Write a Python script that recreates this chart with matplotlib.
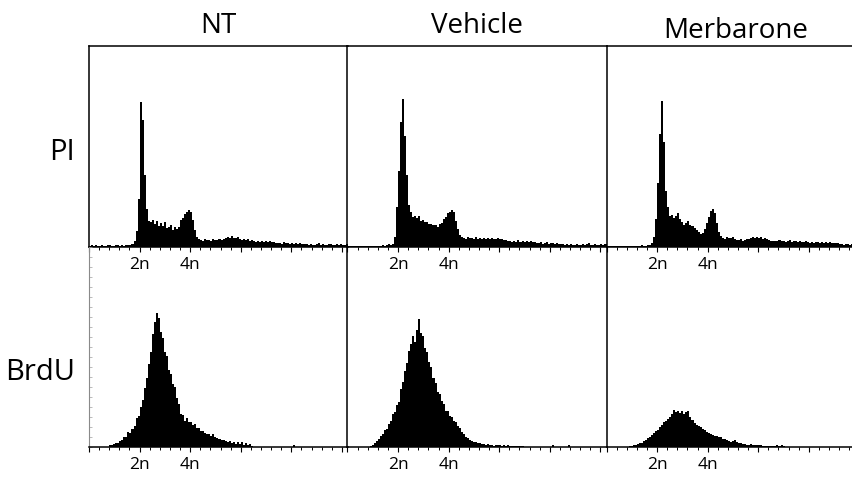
import numpy as np
import matplotlib
matplotlib.use("Agg")
import matplotlib.pyplot as plt
from matplotlib.ticker import MultipleLocator

plt.rcParams['font.family'] = ['Open Sans', 'DejaVu Sans']

conditions = ["NT", "Vehicle", "Merbarone"]
stains = ["PI", "BrdU"]
major_ticks = [0, 200, 400, 600, 800, 1000]
major_labels = ["", "2n", "4n", "", "", ""]
BIN = 8          # channels per histogram bin
N_CHANNELS = 1024

# ---- PI (DNA content) histograms, start channel 0, % of full scale ----
nt_pi = [0.6, 0.8, 0.5, 0.9, 0.7, 0.6, 1.0, 0.7, 0.5, 0.8, 0.9, 0.6, 0.7, 1.0, 0.8, 0.6, 0.9, 0.7, 1.1, 0.8, 1.0,
         1.5, 3, 8, 24, 72, 63, 36, 19, 13, 12.5, 13.6, 11.6, 12.8, 10.6, 11.9, 10.2, 12.4, 9.6, 10.1, 10.8, 8.7,
         9.8, 8.8, 10, 13.5, 14.6, 16.4, 17.2, 18.5, 17.3, 13.6, 8.4, 4.8, 3.8,
         3.5, 3.0, 3.9, 3.3, 3.7, 3.0, 4.0, 3.4, 3.3, 4.2, 3.5, 3.9,
         4.4, 5.2, 4.5, 5.3, 4.6, 4.3, 4.9,
         4.1, 3.5, 4.0, 3.3, 3.8, 3.1, 3.6,
         3.0, 2.7, 3.2, 2.5, 3.0, 2.6, 3.1, 2.4, 2.9, 2.3, 2.7,
         2.2, 1.8, 2.2, 1.7, 2.4, 1.8, 2.1, 1.6, 2.2, 1.7, 2.0, 1.5, 2.1, 1.6, 1.5,
         1.4, 1.1, 1.6, 1.2, 1.1, 1.5, 2.0, 1.2, 1.7, 1.1, 1.1, 1.4, 1.5, 1.1, 1.0, 1.4, 1.1, 1.5, 1.0, 1.2, 1.3]
veh_pi = [0.5, 0.4, 0.6, 0.5, 0.3, 0.6, 0.5, 0.4, 0.7, 0.5, 0.4, 0.6, 0.5, 0.5, 0.7, 0.4, 0.6, 0.8, 0.6,
          1.0, 1.3, 1.1, 1.5,
          5, 20, 38, 62, 73.5, 55, 36, 21, 17.2, 15.1, 15.6, 14.2, 15.4, 13.1, 13.4, 12.2, 12.5, 11.2, 11.4, 10.7,
          10.9, 9.8, 11.2, 11.8, 13.9, 14.7, 16.9, 17.3, 18.3, 17.4, 13, 9, 6, 5,
          4.5, 4.0, 4.8, 4.3, 4.7, 4.0, 4.9, 4.2, 4.6, 3.9, 4.7, 4.1,
          4.4, 3.9, 4.7, 4.1, 4.0, 4.5, 4.0, 3.9, 3.5,
          3.3, 2.8, 3.2, 2.6, 3.1, 2.7, 3.4, 2.5, 3.0, 2.6, 3.1, 2.4, 2.9, 2.5, 2.4,
          2.2, 1.8, 2.3, 1.7, 2.1, 2.3, 1.6, 2.1, 1.8, 1.6, 2.2, 1.7, 1.5,
          1.3, 1.1, 1.6, 1.0, 1.5, 1.2, 1.2, 1.7, 1.2, 1.1, 1.5, 1.1, 1.3, 1.8, 1.1, 1.1, 1.5, 1.2, 1.2, 1.6, 1.2, 1.4]
mer_pi = [0.5, 0.6, 0.4, 0.7, 0.5, 0.6, 0.5, 0.4, 0.6, 0.7, 0.5, 0.6, 0.4, 0.5, 0.7, 0.6, 0.5, 0.8, 0.6, 0.7, 0.9,
          1, 2, 5, 14, 32, 56, 72.5, 52, 28, 20, 15.5, 16, 14.5, 15.5, 17, 14, 12.5, 11, 12, 13, 11, 10.5, 9.5,
          8.5, 7.5, 6.5, 7, 9, 12, 15, 18, 18.7, 17, 12, 7.5, 5.5,
          4.7, 4.2, 4.9, 4.4, 4.5, 4.8, 4.1,
          3.7, 3.3, 3.8, 3.2, 3.6, 3.9,
          4.2, 4.7, 5.0, 4.4, 4.9, 4.3, 4.8, 4.1, 4.6, 3.9,
          3.3, 2.8, 3.2, 2.9, 2.9, 3.4, 2.8, 3.2, 2.6, 3.1, 3.3, 2.7, 3.0, 3.2, 2.6, 3.1, 2.7, 2.6, 3.0,
          2.4, 2.0, 2.5, 1.9, 2.3, 2.6, 2.0, 2.4, 1.8, 2.3, 1.9, 2.5, 2.0, 1.8, 2.1, 1.8, 1.7,
          1.5, 1.2, 1.3, 1.6, 1.2, 1.3, 1.5, 1.2, 1.3, 1.4, 1.1, 1.2]

# ---- BrdU histograms: first non-empty bin and % of full scale ----
nt_brdu_start = 10
nt_brdu = [0.8, 1.2, 1.4, 2.0, 2.1, 2.8, 3.3, 4.8, 5.2, 7.3, 7.2, 8.9, 10.5, 14.5, 15.6, 19.8, 23.5, 29.6, 34.5, 41.5,
           47.5, 56.5, 62.5, 67, 64.5, 57.5, 54.5, 47.5, 45.5, 38.5, 36.5, 31.5, 30, 24.5, 21.5, 16.5, 16.2, 13, 14.6, 12.5,
           12.4, 11.2, 11.4, 9.7, 9.4, 8.2, 7.8, 6.8, 6.3, 6.7, 5.3, 6.6, 4.8, 4.7, 3.8, 3.7, 3.3, 3.1, 2.4, 2.9,
           1.9, 2.6, 1.7, 2.4, 1.4, 2.3, 1.1, 1.9, 1.1, 1.6, 0.6,
           0, 0, 0, 0, 0, 0, 0, 0, 0, 0, 0, 0, 0, 0, 0, 0, 0, 0, 0, 0, 1.2]
veh_brdu_start = 11
veh_brdu = [0.4, 1.1, 1.9, 3.2, 3.8, 5.5, 6.3, 8.3, 9.2, 11.4, 12.9, 16.4, 17.6, 21, 22.6, 29, 32.5, 38, 42, 48,
            51.5, 55.5, 52.5, 58.5, 64, 57, 55.5, 49.5, 47.5, 42.5, 40, 34.5, 32, 27.5, 26.5, 23, 21.5, 18, 18, 15.6,
            14.9, 13.1, 12.4, 10.4, 9.5, 7.7, 6.6, 5.1, 4.7, 3.5, 3.1, 2.5, 2.3, 1.9, 1.8, 1.5, 1.4, 1.1, 1.3, 0.9,
            1.0, 0.7, 1.1, 0.8, 1, 0.7, 0.9, 0.6, 0.8, 0.5, 0.4,
            0.3, 0.3, 0.3, 0.7, 0.6,
            0.2, 0.2, 0.2, 0.2, 0.2, 0.2, 0.2, 0.2, 0.2, 0.2, 0.2, 0.2, 0.2, 0.2,
            0.9, 0.1, 0.1, 0.1, 0.1, 0.1, 0.1, 0.1, 1.0]
mer_brdu_start = 11
mer_brdu = [0.3, 0.6, 0.9, 1.2, 1.3, 1.8, 2.2, 3.1, 3.7, 4.6, 4.9, 6.1, 6.9, 8.1, 8.7, 10.2, 11, 12.4, 13, 14.2,
            14.8, 16.7, 18.3, 17.3, 18.2, 17.1, 17.8, 16.6, 17.5, 17.8, 15, 13.7, 11.8, 11.2, 10.3, 10.2, 9.1, 8.7, 7.3, 7.2,
            6.3, 6.2, 5.4, 5.7, 4.8, 5.0, 4.0, 4.2, 3.4, 3.1, 2.7, 3.2, 3.4, 2.5, 2, 1.8, 1.5, 1.3, 1.2, 1,
            1.3, 1.1, 1.2, 0.9, 1.1, 0.8, 0.7, 0.5, 0.7, 0.4, 0.4, 0.3, 0.4, 0.8, 0.4, 0.8, 0.5]

histograms = {
    ("PI", "NT"): (0, nt_pi),
    ("PI", "Vehicle"): (0, veh_pi),
    ("PI", "Merbarone"): (0, mer_pi),
    ("BrdU", "NT"): (nt_brdu_start, nt_brdu),
    ("BrdU", "Vehicle"): (veh_brdu_start, veh_brdu),
    ("BrdU", "Merbarone"): (mer_brdu_start, mer_brdu),
}

W, H = 853, 479
fig = plt.figure(figsize=(W / 100, H / 100), dpi=100)

col_left = [89, 347.5, 606.5]
col_width = 259
row_top = [46, 247]
row_height = [201, 200]


def px_rect(left, top, width, height):
    return [left / W, 1 - (top + height) / H, width / W, height / H]


for r, stain in enumerate(stains):
    for c, cond in enumerate(conditions):
        ax = fig.add_axes(px_rect(col_left[c], row_top[r], col_width, row_height[r]))
        ax.set_facecolor("none")
        start, vals = histograms[(stain, cond)]
        vals = np.asarray(vals, dtype=float)
        edges = np.arange(start, start + len(vals) + 1) * BIN
        ax.stairs(vals, edges, fill=True, color="black", linewidth=0)
        ax.set_xlim(0, N_CHANNELS)
        ax.set_ylim(0, 100)

        for side in ["top", "bottom", "left", "right"]:
            ax.spines[side].set_linewidth(1.1)
            ax.spines[side].set_color("black")
        # neighbouring panel's left border doubles as this one's right border
        if c < len(conditions) - 1:
            ax.spines["right"].set_visible(False)
        if r == 1:
            ax.spines["top"].set_visible(False)
            if c == 0:
                ax.spines["left"].set_color("#8a8a8a")
                ax.spines["left"].set_linewidth(0.8)

        ax.set_xticks(major_ticks, major_labels)
        ax.xaxis.set_minor_locator(MultipleLocator(40))
        ax.tick_params(axis="x", which="major", direction="out", length=3.5, width=0.8,
                       pad=4, labelsize=12.5, colors="black")
        ax.tick_params(axis="x", which="minor", direction="out", length=2.2, width=0.7)
        ax.set_yticks([])
        if r == 1 and c == 0:
            ax.yaxis.set_minor_locator(MultipleLocator(5))
            ax.tick_params(axis="y", which="minor", direction="in", length=2,
                           width=0.5, color="#a0a0a0")

# column and row headings
title_baseline = [33, 33, 38]
for c, cond in enumerate(conditions):
    fig.text((col_left[c] + col_width / 2) / W, 1 - title_baseline[c] / H, cond,
             ha="center", va="baseline", fontsize=20)

row_baseline = [160, 380]
for r, stain in enumerate(stains):
    fig.text(75 / W, 1 - row_baseline[r] / H, stain, ha="right", va="baseline", fontsize=21)

fig.savefig("out.png", dpi=100)
